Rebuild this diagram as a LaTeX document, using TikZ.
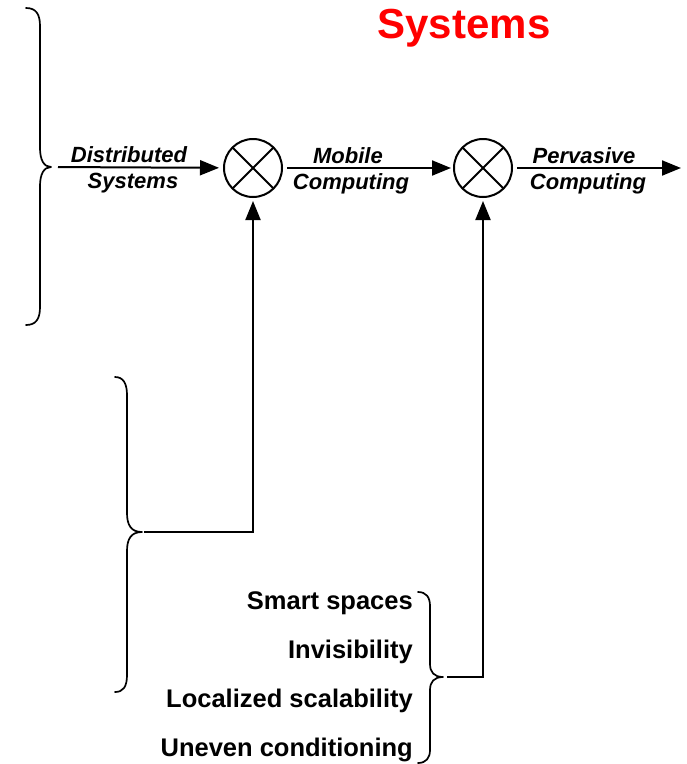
\documentclass[tikz,border=0pt]{standalone}
\usepackage{fontspec}
\setmainfont{Liberation Sans}
\usetikzlibrary{arrows.meta}
\tikzset{
  lab/.style={font=\bfseries\itshape\fontsize{22}{22}\selectfont, anchor=base, inner sep=0pt},
  item/.style={font=\bfseries\fontsize{25.5}{25.5}\selectfont, anchor=base east, inner sep=0pt},
  mix/.style={circle, draw, line width=2pt, minimum size=58pt, inner sep=0pt, outer sep=0pt},
  flow/.style={line width=2pt, -{Triangle[length=19pt,width=15pt]}},
  brace/.style={line width=1.7pt, line join=round, line cap=round},
}
\begin{document}
\begin{tikzpicture}[x=1pt,y=-1pt]
\useasboundingbox (0,0) rectangle (687,764);

% title
\node[font=\bfseries\fontsize{42}{42}\selectfont, text=red, anchor=base, inner sep=0pt] (title) at (464,38) {Systems};

% the two mixing junctions
\node[mix] (m1) at (253,168) {};
\node[mix] (m2) at (483,168) {};
\draw[line width=2pt] (m1.45) -- (m1.225) (m1.135) -- (m1.315);
\draw[line width=2pt] (m2.45) -- (m2.225) (m2.135) -- (m2.315);

% brace tips and the free output end
\coordinate (tipA) at (51,167);
\coordinate (tipB) at (142,532);
\coordinate (tipC) at (443,677);
\coordinate (outEnd) at (681,168);
\coordinate (cornerB) at (253,532);
\coordinate (cornerC) at (483,677);

% braces
\draw[brace] (26,8) .. controls (36,8) and (40,14) .. (40,26) -- (40,148)
  .. controls (40,160) and (44,167) .. (tipA)
  .. controls (44,167) and (40,174) .. (40,186) -- (40,307)
  .. controls (40,319) and (36,325) .. (26,325);
\draw[brace] (115,377) .. controls (123,377) and (127,383) .. (127,395) -- (127,513)
  .. controls (127,525) and (131,532) .. (tipB)
  .. controls (131,532) and (127,539) .. (127,551) -- (127,675)
  .. controls (127,687) and (123,692) .. (115,692);
\draw[brace] (418,592) .. controls (426,592) and (430,597) .. (430,606) -- (430,664)
  .. controls (430,672) and (434,677) .. (tipC)
  .. controls (434,677) and (430,682) .. (430,690) -- (430,750)
  .. controls (430,758) and (426,763) .. (418,763);

% main flow
\draw[flow, shorten <=7pt, shorten >=5pt] (tipA) -- (m1);
\draw[flow, shorten <=5pt, shorten >=3pt] (m1) -- (m2);
\draw[flow, shorten <=5pt] (m2) -- (outEnd);

% side inputs
\draw[flow, shorten <=2pt, shorten >=4pt] (tipB) -- (cornerB) -- (m1);
\draw[flow, shorten <=4pt, shorten >=4pt] (tipC) -- (cornerC) -- (m2);

% flow labels
\node[lab] (l1) at (129,162) {Distributed};
\node[lab] (l2) at (133,188) {Systems};
\node[lab] (l3) at (348,163) {Mobile};
\node[lab] (l4) at (351,189) {Computing};
\node[lab] (l5) at (584,163) {Pervasive};
\node[lab] (l6) at (588,189) {Computing};

% list of pervasive-computing concerns
\node[item] (i1) at (413,609) {Smart spaces};
\node[item] (i2) at (413,658) {Invisibility};
\node[item] (i3) at (413,707) {Localized scalability};
\node[item] (i4) at (413,756) {Uneven conditioning};
\end{tikzpicture}
\end{document}
